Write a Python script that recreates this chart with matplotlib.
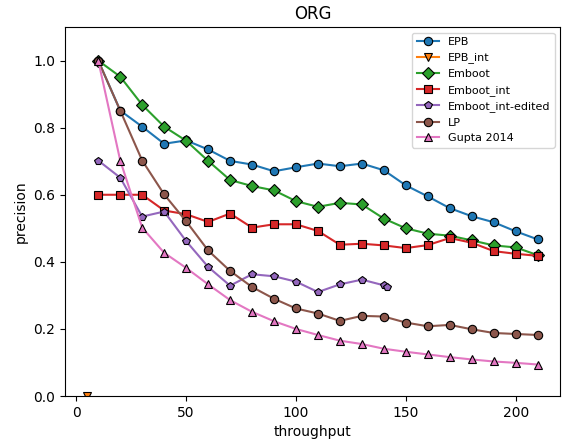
import matplotlib.pyplot as plt

# throughput values
x = [10, 20, 30, 40, 50, 60, 70, 80, 90, 100, 110, 120, 130, 140, 150, 160, 170, 180, 190, 200, 210]

epb = [1.0, 0.851, 0.803, 0.752, 0.762, 0.735, 0.701, 0.69, 0.67, 0.682, 0.693, 0.685, 0.693, 0.673,
       0.628, 0.595, 0.56, 0.536, 0.518, 0.491, 0.467]
epb_int_x = [5]
epb_int = [0.0]
emboot = [1.0, 0.952, 0.868, 0.803, 0.761, 0.701, 0.644, 0.626, 0.613, 0.581, 0.564, 0.576, 0.571, 0.529,
          0.5, 0.484, 0.478, 0.464, 0.449, 0.443, 0.42]
emboot_int = [0.6, 0.6, 0.6, 0.553, 0.542, 0.519, 0.544, 0.502, 0.512, 0.512, 0.492, 0.451, 0.454, 0.449,
              0.441, 0.45, 0.471, 0.457, 0.432, 0.424, 0.418]
edited_x = [10, 20, 30, 40, 50, 60, 70, 80, 90, 100, 110, 120, 130, 140, 141.5]
edited = [0.702, 0.651, 0.535, 0.55, 0.462, 0.385, 0.329, 0.363, 0.357, 0.341, 0.31, 0.333, 0.347, 0.33, 0.325]
lp = [1.0, 0.851, 0.702, 0.601, 0.521, 0.434, 0.373, 0.325, 0.29, 0.261, 0.246, 0.224, 0.239, 0.237,
      0.219, 0.208, 0.212, 0.199, 0.188, 0.185, 0.182]
gupta = [1.0, 0.702, 0.502, 0.427, 0.382, 0.333, 0.286, 0.251, 0.223, 0.2, 0.182, 0.165, 0.155, 0.141,
         0.132, 0.124, 0.116, 0.109, 0.103, 0.099, 0.094]

fig = plt.figure(figsize=(5.63, 4.43), dpi=100)
ax = fig.add_axes([0.115, 0.106, 0.88, 0.833])

kw = dict(markeredgecolor='black', markeredgewidth=0.8, markersize=6, linewidth=1.5)
ax.plot(x, epb, marker='o', color='#1f77b4', label='EPB', **kw)
ax.plot(epb_int_x, epb_int, marker='v', color='#ff7f0e', label='EPB_int', **kw)
ax.plot(x, emboot, marker='D', color='#2ca02c', label='Emboot', **kw)
ax.plot(x, emboot_int, marker='s', color='#d62728', label='Emboot_int', **kw)
ax.plot(edited_x, edited, marker='p', color='#9467bd', label='Emboot_int-edited', **kw)
ax.plot(x, lp, marker='o', color='#8c564b', label='LP', **kw)
ax.plot(x, gupta, marker='^', color='#e377c2', label='Gupta 2014', **kw)

ax.set_ylim(0, 1.1)
ax.set_title('ORG')
ax.set_xlabel('throughput')
ax.set_ylabel('precision')
ax.legend(loc='upper right', fontsize=8)

fig.savefig('out.png')
